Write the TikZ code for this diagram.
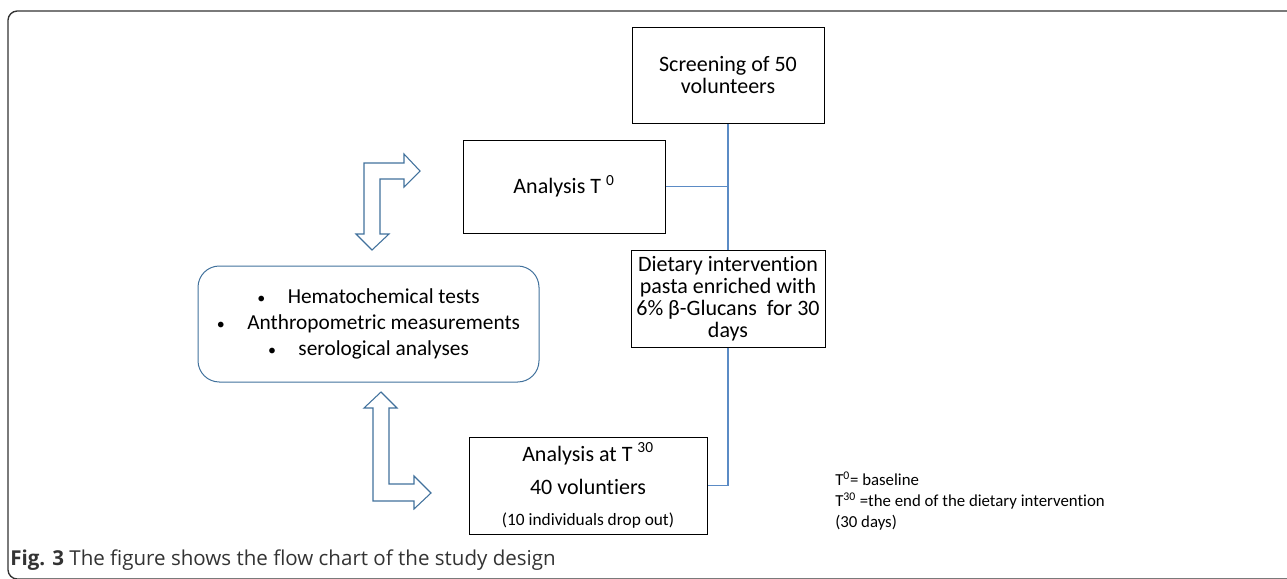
\documentclass[tikz,border=0pt]{standalone}
\usepackage{fontspec}
\setmainfont{Carlito}[Ligatures=NoCommon]
\newfontfamily\capfont{Open Sans}
\usetikzlibrary{positioning,calc}

\definecolor{linkblue}{HTML}{5B8BC5}
\definecolor{arrowblue}{HTML}{41719C}
\definecolor{framegray}{HTML}{333333}

\newcommand{\smallbul}{{\fontsize{12}{12}\selectfont\textbullet}\hspace{1.05em}}

\begin{document}
\begin{tikzpicture}[
    x=0.75pt, y=-0.75pt,
    box/.style={draw, line width=0.75pt, align=center, inner sep=2pt,
                font=\fontsize{16.5}{16.5}\selectfont},
    roundbox/.style={draw=arrowblue, line width=0.75pt, rounded corners=16pt,
                align=center, font=\fontsize{16}{19.2}\selectfont},
    link/.style={draw=linkblue, line width=0.9pt},
    blockarrow/.style={draw=arrowblue, fill=white, line width=0.8pt, line join=miter},
]
\useasboundingbox (0,0) rectangle (1287,578);

% outer frame (cut at the right and bottom)
\draw[framegray, line width=1pt, rounded corners=7pt] (8,11) rectangle (1300,579);

% flow boxes
\node[box, minimum width=144pt, minimum height=72pt] (screen) at (728,75)
    {Screening of 50\\volunteers};
\node[box, minimum width=151.5pt, minimum height=69.75pt] (ana0) at (564,186.5)
    {Analysis T \textsuperscript{0}};
\node[box, minimum width=145.5pt, minimum height=72.75pt] (diet) at (728,298.5)
    {Dietary intervention\\pasta enriched with\\6\% β-Glucans\ \ for 30\\days};
\node[box, minimum width=178.5pt, minimum height=72.75pt] (ana30) at (588,485.5)
    {Analysis at T \textsuperscript{30}\\[8.25pt]40 voluntiers\\[6.75pt]{\fontsize{13}{13}\selectfont (10 individuals drop out)}};

% measurements
\node[roundbox, minimum width=255.75pt, minimum height=87pt] (tests) at (368.5,324)
    {\raisebox{-2.2pt}{\smallbul}\raisebox{-2.2pt}{Hematochemical tests}\\
     \raisebox{-2.2pt}{\smallbul}\raisebox{-2.2pt}{Anthropometric measurements}\\
     \raisebox{-2.2pt}{\smallbul}\raisebox{-2.2pt}{serological analyses}};

% connectors
\draw[link] (screen.south) -- (diet.north);
\draw[link] (ana0.east) -- (ana0.east -| screen.south);
\draw[link] (diet.south) |- (ana30.east);

% bent block arrows
\draw[blockarrow] (364,163) -- (404,163) -- (404,154) -- (420,171) -- (404,187)
    -- (404,179) -- (380,179) -- (380,234) -- (389,234) -- (372,250)
    -- (356,234) -- (364,234) -- cycle;
\draw[blockarrow] (381,392) -- (397,408) -- (389,408) -- (389,484) -- (414,484)
    -- (414,476) -- (431,493) -- (414,509) -- (414,501) -- (373,501)
    -- (373,408) -- (364,408) -- cycle;

% legend
\node[anchor=north west, inner sep=0pt, align=left,
      font=\fontsize{12.6}{15.75}\selectfont] (legend) at (835,472)
    {T\textsuperscript{0}= baseline\\
     T\textsuperscript{30} =the end of the dietary intervention\\
     (30 days)};

% caption
\node[anchor=base west, inner sep=0pt, text=framegray,
      font=\capfont\fontsize{15.4}{17}\selectfont] (caption) at (10,565)
    {\textbf{Fig. 3} The figure shows the flow chart of the study design};

\end{tikzpicture}
\end{document}
